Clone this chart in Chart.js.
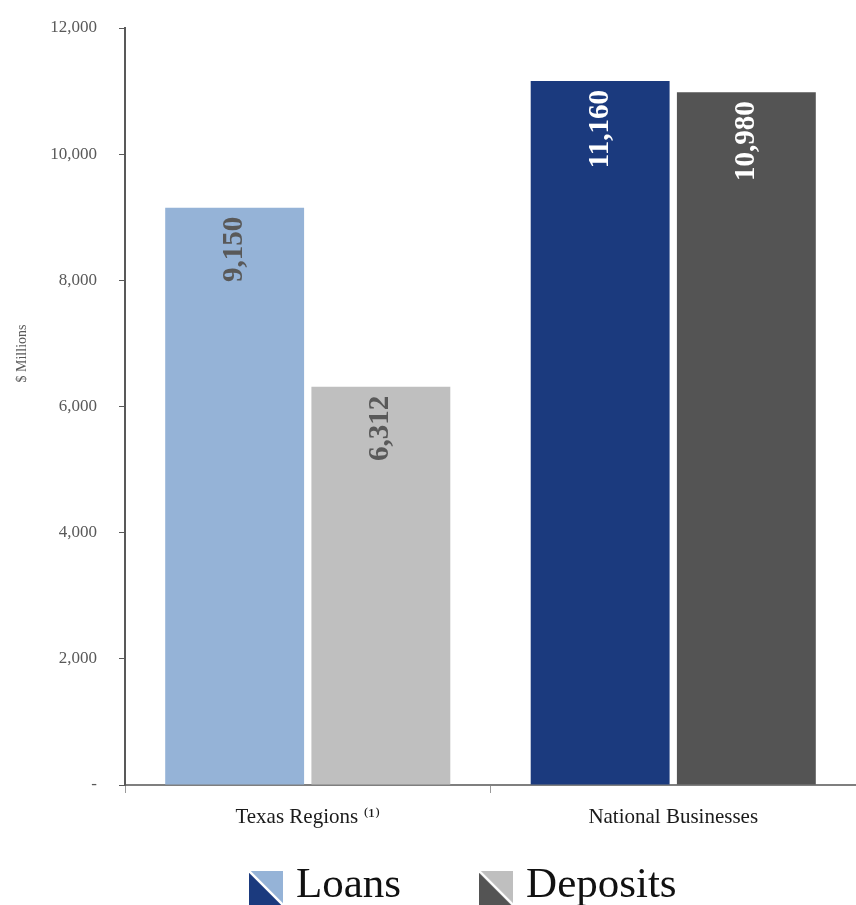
<!DOCTYPE html>
<html><head><meta charset="utf-8">
<script src="https://cdn.jsdelivr.net/npm/chart.js@4"></script>
<style>html,body{margin:0;padding:0;background:#fff}#wrap{width:856px;height:905px;position:relative}</style>
</head><body><div id="wrap"><canvas id="c"></canvas></div>
<script>
const categories = ['Texas Regions ⁽¹⁾', 'National Businesses'];
const seriesNames = ['Loans', 'Deposits'];
const loans = [9150, 11160];
const deposits = [6312, 10980];
const loansColors = ['#95b3d7', '#1b3a7e'];
const depositsColors = ['#bfbfbf', '#545454'];
const labelColors = ['#595959', '#ffffff'];
const yTitle = '$ Millions';
const yMax = 12000, yStep = 2000;

const serif = "'Liberation Serif', 'DejaVu Serif', serif";

function legendIcon(light, dark) {
  const s = 34, cv = document.createElement('canvas');
  cv.width = s; cv.height = s;
  const c = cv.getContext('2d');
  c.fillStyle = light; c.fillRect(0, 0, s, s);
  c.fillStyle = dark; c.beginPath(); c.moveTo(0, 0); c.lineTo(0, s); c.lineTo(s, s); c.closePath(); c.fill();
  c.strokeStyle = '#fff'; c.lineWidth = 2.5; c.beginPath(); c.moveTo(0, 0); c.lineTo(s, s); c.stroke();
  return cv;
}

const barLabels = {
  id: 'barLabels',
  afterDatasetsDraw(chart) {
    const ctx = chart.ctx;
    chart.data.datasets.forEach((ds, di) => {
      const meta = chart.getDatasetMeta(di);
      meta.data.forEach((el, i) => {
        ctx.save();
        ctx.translate(el.x, el.y + 9);
        ctx.rotate(-Math.PI / 2);
        ctx.font = "bold 29px " + serif;
        ctx.fillStyle = labelColors[i];
        ctx.textAlign = 'right';
        ctx.textBaseline = 'middle';
        ctx.fillText(ds.data[i].toLocaleString('en-US'), 0, 0);
        ctx.restore();
      });
    });
  }
};

const extras = {
  id: 'extras',
  afterDraw(chart) {
    const ctx = chart.ctx, a = chart.chartArea;
    ctx.save();
    ctx.translate(22, a.top + (a.bottom - a.top) * 0.43);
    ctx.rotate(-Math.PI / 2);
    ctx.font = "14px " + serif;
    ctx.fillStyle = '#595959';
    ctx.textAlign = 'center';
    ctx.textBaseline = 'middle';
    ctx.fillText(yTitle, 0, 0);
    ctx.restore();
    ctx.save();
    ctx.font = "43px " + serif;
    ctx.fillStyle = '#111';
    ctx.textBaseline = 'alphabetic';
    let x = 249;
    chart.data.datasets.forEach((ds) => {
      const icon = legendIcon(ds.backgroundColor[0], ds.backgroundColor[1]);
      ctx.drawImage(icon, x, 871);
      x += 34 + 13;
      ctx.fillText(ds.label, x, 897);
      x += ctx.measureText(ds.label).width + 78;
    });
    ctx.restore();
  }
};

new Chart(document.getElementById('c'), {
  type: 'bar',
  data: {
    labels: categories,
    datasets: [
      { label: seriesNames[0], data: loans, backgroundColor: loansColors, borderWidth: 0 },
      { label: seriesNames[1], data: deposits, backgroundColor: depositsColors, borderWidth: 0 }
    ]
  },
  options: {
    responsive: true,
    maintainAspectRatio: false,
    animation: false,
    datasets: { bar: { barPercentage: 0.95, categoryPercentage: 0.8 } },
    layout: { padding: { top: 28, right: 0, left: 0, bottom: 70 } },
    plugins: { legend: { display: false }, tooltip: { enabled: false } },
    scales: {
      x: {
        afterFit(s) { s.height = 50; s.paddingLeft = 0; s.paddingRight = 0; },
        border: { color: '#7f7f7f', width: 2 },
        grid: { drawOnChartArea: false, drawTicks: true, tickLength: 8, color: '#9a9a9a', offset: true },
        ticks: { color: '#1a1a1a', font: { family: serif, size: 21 }, padding: 12 }
      },
      y: {
        min: 0, max: yMax,
        afterFit(s) { s.width = 125; s.paddingTop = 0; s.paddingBottom = 0; },
        border: { color: '#595959', width: 2 },
        grid: { drawOnChartArea: false, drawTicks: true, tickLength: 6, color: '#595959' },
        ticks: {
          stepSize: yStep,
          color: '#595959',
          font: { family: serif, size: 17 },
          padding: 22,
          callback: v => v === 0 ? '-' : v.toLocaleString('en-US')
        }
      }
    }
  },
  plugins: [barLabels, extras]
});
</script>
</body></html>
